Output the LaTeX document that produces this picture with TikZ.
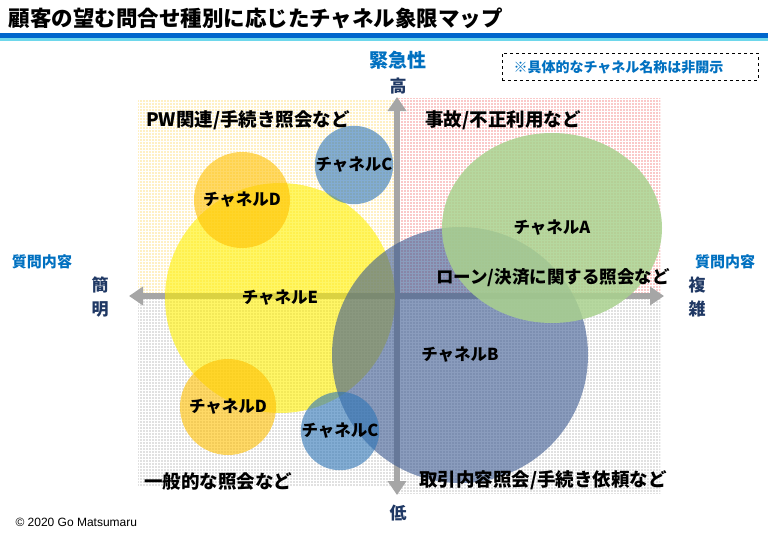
\documentclass[tikz,border=0pt]{standalone}
\usepackage{fontspec}
\setmainfont{Noto Sans CJK JP}
\newfontfamily\cpfont{Liberation Sans}
\usetikzlibrary{patterns,shapes.geometric,arrows.meta}
\definecolor{bandblue}{RGB}{0,102,204}
\definecolor{bandcyan}{RGB}{110,215,235}
\definecolor{headblue}{RGB}{0,112,192}
\definecolor{navy}{RGB}{31,56,100}
\definecolor{axisgray}{RGB}{166,166,166}
\definecolor{dotTL}{RGB}{255,192,0}
\definecolor{dotTR}{RGB}{235,20,20}
\definecolor{dotB}{RGB}{125,125,125}
\definecolor{chA}{RGB}{169,209,142}
\definecolor{chB}{RGB}{60,90,145}
\definecolor{chC}{RGB}{46,117,182}
\definecolor{chD}{RGB}{255,192,0}
\definecolor{chE}{RGB}{255,240,0}
\pgfdeclarepatternformonly{bigdots}{\pgfqpoint{-1pt}{-1pt}}{\pgfqpoint{1pt}{1pt}}{\pgfqpoint{3pt}{3pt}}%
{\pgfpathcircle{\pgfqpoint{0pt}{0pt}}{0.65pt}\pgfusepath{fill}}
\tikzset{
  titl/.style={font=\bfseries\fontsize{21.5}{23}\selectfont,anchor=west},
  quad/.style={pattern=bigdots},
  axis/.style={draw=axisgray,line width=6pt,{Triangle[width=18pt,length=14pt]}-{Triangle[width=18pt,length=14pt]}},
  chan/.style={circle,draw=none,inner sep=0pt,fill opacity=0.6,text opacity=1,font=\bfseries\fontsize{16.5}{17}\selectfont},
  qlab/.style={font=\bfseries\fontsize{18.5}{19}\selectfont},
  axlab/.style={font=\bfseries\fontsize{17}{17}\selectfont,text=navy},
  blab/.style={font=\bfseries\fontsize{14}{14}\selectfont,text=headblue},
}

\begin{document}
\begin{tikzpicture}[x=1pt,y=-1pt]
  \useasboundingbox (0,0) rectangle (768,533);
  % header
  \node[titl] (title) at (5,18) {顧客の望む問合せ種別に応じたチャネル象限マップ};
  \fill[bandblue] (0,32.5) rectangle (768,37.5);
  \fill[bandcyan] (0,37.5) rectangle (768,41);
  \node[draw=black,dashed,line width=0.6pt,minimum width=256pt,minimum height=27pt,inner sep=0pt] (note) at (630,66.5) {};
  \node[blab,anchor=west] (noteText) at (510,67) {※具体的なチャネル名称は非開示};
  % quadrants
  \fill[quad,pattern color=dotTL] (138,100) rectangle (397,296);
  \fill[quad,pattern color=dotTR] (397,98) rectangle (660,296);
  \fill[quad,pattern color=dotB] (138,296) rectangle (397,486);
  \fill[quad,pattern color=dotB] (397,296) rectangle (660,493);
  % axes
  \coordinate (axT) at (397,97);
  \coordinate (axB) at (397,495);
  \coordinate (axL) at (129,296);
  \coordinate (axR) at (664,296);
  \draw[axis] (axB) -- (axT);
  \draw[axis] (axL) -- (axR);
  % channels
  \node[chan,fill=chE,minimum size=230pt] (chanE) at (280,298) {チャネルE};
  \node[chan,fill=chD,minimum size=96pt] (chanD1) at (242,200) {チャネルD};
  \node[chan,fill=chD,minimum size=96pt] (chanD2) at (228,407) {チャネルD};
  \node[chan,fill=chB,minimum size=256pt] (chanB) at (460,355) {チャネルB};
  \node[chan,fill=chC,minimum size=76pt] (chanC1) at (354,165) {チャネルC};
  \node[chan,fill=chC,minimum size=78pt] (chanC2) at (340,431) {チャネルC};
  \node[chan,ellipse,fill=chA,fill opacity=0.85,minimum width=220pt,minimum height=190pt] (chanA) at (552,228) {チャネルA};
  % quadrant labels
  \node[qlab] (qTL) at (248,120) {PW関連/手続き照会など};
  \node[qlab] (qTR) at (503,120) {事故/不正利用など};
  \node[qlab] (qBL) at (218,481) {一般的な照会など};
  \node[qlab] (qBR) at (543,480) {取引内容照会/手続き依頼など};
  \node[qlab,font=\bfseries\fontsize{17.5}{18}\selectfont] (qA) at (553,278) {ローン/決済に関する照会など};
  % axis labels
  \node[blab,font=\bfseries\fontsize{19}{19}\selectfont] (urg) at (398,60) {緊急性};
  \node[axlab] (high) at (398,86) {高};
  \node[axlab] (low) at (398,513) {低};
  \node[axlab] (simp1) at (100,285) {簡};
  \node[axlab] (simp2) at (100,309) {明};
  \node[axlab] (comp1) at (697,285) {複};
  \node[axlab] (comp2) at (697,309) {雑};
  \node[blab,font=\bfseries\fontsize{15}{15}\selectfont] (qL) at (42,262) {質問内容};
  \node[blab,font=\bfseries\fontsize{15}{15}\selectfont] (qR) at (725,262) {質問内容};
  \node[anchor=west,font=\cpfont\fontsize{12}{12}\selectfont] (copy) at (12,522) {© 2020 Go Matsumaru};
\end{tikzpicture}
\end{document}
